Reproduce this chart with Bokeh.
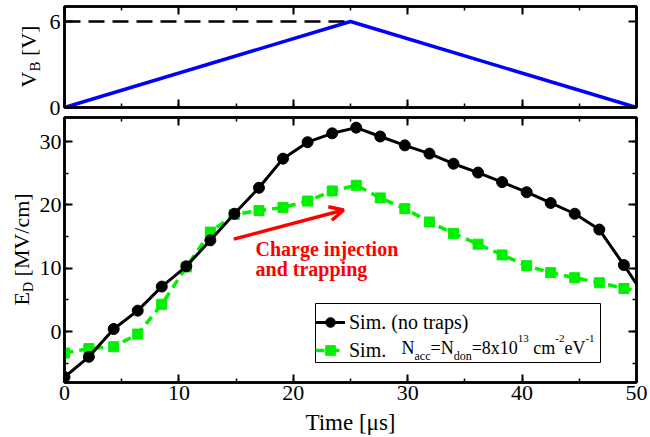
import math
from bokeh.plotting import figure
from bokeh.layouts import column, row
from bokeh.models import (Range1d, LinearAxis, FixedTicker, SingleIntervalTicker, Label,
                          Legend, LegendItem, Arrow, OpenHead, CustomJSTickFormatter,
                          BoxAnnotation)
from bokeh.embed import file_html
from bokeh.resources import INLINE

# ---------------- data ----------------
time_us = [0.0, 2.13, 4.3, 6.4, 8.5, 10.65, 12.75, 14.85, 17.0, 19.1, 21.25, 23.4,
           25.5, 27.6, 29.75, 31.9, 34.0, 36.15, 38.25, 40.4, 42.5, 44.6, 46.75, 48.9]
ed_no_traps = [-7.2, -4.0, 0.4, 3.3, 7.1, 10.3, 14.4, 18.6, 22.7, 27.3, 29.9, 31.3,
               32.2, 30.8, 29.4, 28.1, 26.5, 25.1, 23.6, 22.0, 20.3, 18.6, 16.1, 10.5]
ed_traps = [-3.4, -2.7, -2.4, -0.4, 4.3, 10.2, 15.7, 18.5, 19.1, 19.6, 20.6, 22.2,
            23.1, 21.1, 19.4, 17.3, 15.5, 13.8, 12.1, 10.4, 9.3, 8.5, 7.7, 6.8]
end_time = [50.0]
end_no_traps = [7.5]
end_traps = [6.5]

vb_time = [0, 25, 50]
vb_volt = [0, 6, 0]
vmax_time = [0, 25]
vmax_volt = [6, 6]

x_title = "Time [μs]"

FONT = "Liberation Serif"
MID = 0.3375  # em distance from alphabetic baseline to em-box middle

# Times / Liberation Serif advance widths (em)
TW = {"N": .722, "a": .444, "c": .444, "d": .5, "o": .5, "n": .5, "=": .564, "8": .5,
      "x": .5, "1": .5, "0": .5, "3": .5, " ": .25, "m": .778, "-": .333, "2": .5,
      "e": .444, "V": .722, "E": .611, "D": .722, "[": .333, "]": .333, "M": .889,
      "/": .278, "B": .667}


def tw(s, size):
    return sum(TW.get(ch, .5) for ch in s) * size


def style_axis(ax, ticker, labels=True, size="22px", standoff=3):
    ax.ticker = ticker
    ax.axis_line_color = "black"
    ax.axis_line_width = 2.5
    ax.major_tick_in = 8
    ax.major_tick_out = 0
    ax.minor_tick_in = 4
    ax.minor_tick_out = 0
    ax.major_tick_line_width = 2
    ax.minor_tick_line_width = 1.5
    ax.major_tick_line_color = "black"
    ax.minor_tick_line_color = "black"
    ax.major_label_text_font = FONT
    ax.major_label_text_color = "black"
    if labels:
        ax.major_label_text_font_size = size
        ax.major_label_standoff = standoff
    else:
        ax.formatter = CustomJSTickFormatter(code="return ''")
        ax.major_label_text_font_size = "0px"
        ax.major_label_standoff = 0


def xticker():
    return SingleIntervalTicker(interval=10, num_minor_ticks=2)


def base_fig(w, h, yr, left, top, bottom):
    p = figure(width=w, height=h, x_range=Range1d(0, 50), y_range=yr,
               output_backend="svg", toolbar_location=None,
               min_border_left=left, min_border_right=14,
               min_border_top=top, min_border_bottom=bottom)
    p.xgrid.grid_line_color = None
    p.ygrid.grid_line_color = None
    p.outline_line_color = "black"
    p.outline_line_width = 2.5
    p.background_fill_color = "white"
    p.border_fill_color = "white"
    return p


def label_fig(w, h, top, bottom, page_top):
    # frame aligned with the neighbour plot's frame; y data == page pixel row
    f = figure(width=w, height=h, x_range=Range1d(0, w),
               y_range=Range1d(page_top + h - bottom, page_top + top),
               output_backend="svg", toolbar_location=None,
               x_axis_location=None, y_axis_location=None,
               min_border_left=0, min_border_right=0, min_border_top=top,
               min_border_bottom=bottom)
    f.outline_line_color = None
    f.background_fill_color = "white"
    f.border_fill_color = "white"
    f.xgrid.visible = False
    f.ygrid.visible = False
    return f


def rot_label(f, tokens, x_base, y_start):
    # tokens: text, font size, baseline shift (px, + = right), gap before; text runs upward
    y = y_start
    for text, size, shift, gap in tokens:
        y -= gap
        w = tw(text, size)
        f.add_layout(Label(x=x_base + shift - MID * size, y=y - w / 2, text=text,
                           angle=math.pi / 2, text_font=FONT, text_font_size=f"{size}px",
                           text_align="center", text_baseline="middle", text_color="black"))
        y -= w


H1, H2 = 116, 321
T1, B1 = 6, 9
T2, B2 = 1, 55
LW1, LW2 = 42, 36

# ---------------- top panel ----------------
L1 = label_fig(LW1, H1, T1, B1, 0)
rot_label(L1, [("V", 22, 0, 0), ("B", 15, 5, 0), ("[V]", 22, 0, 5.5)], 35, 87)

p1 = base_fig(650 - LW1, H1, Range1d(0, 7.05), left=64 - LW1, top=T1, bottom=B1)
style_axis(p1.xaxis[0], xticker(), labels=False)
style_axis(p1.yaxis[0], FixedTicker(ticks=[0, 6], minor_ticks=[]), labels=True, standoff=4)
ax_r1 = LinearAxis()
style_axis(ax_r1, FixedTicker(ticks=[0, 6], minor_ticks=[]), labels=False)
p1.add_layout(ax_r1, "right")
ax_t1 = LinearAxis()
style_axis(ax_t1, xticker(), labels=False)
p1.add_layout(ax_t1, "above")

p1.line(vmax_time, vmax_volt, line_color="black", line_width=2.5, line_dash="16 8")
p1.line(vb_time, vb_volt, line_color="#0000ff", line_width=3.5)

# ---------------- bottom panel ----------------
L2 = label_fig(LW2, H2, T2, B2, H1)
rot_label(L2, [("E", 22, 0, 0), ("D", 14, 4.5, 0), ("[MV/cm]", 22, 0, 5.5)], 28.5, 305)

p2 = base_fig(650 - LW2, H2, Range1d(-8.05, 33.8), left=64 - LW2, top=T2, bottom=B2)
style_axis(p2.xaxis[0], xticker(), labels=True, standoff=3)
p2.xaxis[0].axis_label = x_title
p2.xaxis[0].axis_label_text_font = FONT
p2.xaxis[0].axis_label_text_font_size = "23px"
p2.xaxis[0].axis_label_text_font_style = "normal"
p2.xaxis[0].axis_label_text_color = "black"
p2.xaxis[0].axis_label_standoff = 7
style_axis(p2.yaxis[0], SingleIntervalTicker(interval=10, num_minor_ticks=2), labels=True, standoff=3)
ax_r2 = LinearAxis()
style_axis(ax_r2, SingleIntervalTicker(interval=10, num_minor_ticks=2), labels=False)
p2.add_layout(ax_r2, "right")
ax_t2 = LinearAxis()
style_axis(ax_t2, xticker(), labels=False)
p2.add_layout(ax_t2, "above")

green = "#00f000"
g_line = p2.line(time_us + end_time, ed_traps + end_traps, line_color=green,
                 line_width=3.5, line_dash="9 6")
g_sc = p2.scatter(time_us, ed_traps, marker="square", size=10, fill_color=green,
                  line_color=green)
b_line = p2.line(time_us + end_time, ed_no_traps + end_no_traps, line_color="black",
                 line_width=3)
b_sc = p2.scatter(time_us, ed_no_traps, marker="circle", size=11, fill_color="black",
                  line_color="black")

p2.add_layout(Arrow(x_start=14.8, y_start=14.6, x_end=24.4, y_end=19.2,
                    line_color="red", line_width=3.5,
                    end=OpenHead(size=14, line_color="red", line_width=3.5)))
for txt, yy in [("Charge injection", 13.07), ("and trapping", 9.9)]:
    p2.add_layout(Label(x=16.7, y=yy, text=txt, text_font=FONT, text_font_size="20px",
                        text_font_style="bold", text_color="red", text_align="left",
                        text_baseline="middle"))

# legend frame (white box with black border), legend itself transparent on top
LEG_L, LEG_B, LEG_W, LEG_H = 251, 20, 285, 59
p2.add_layout(BoxAnnotation(left=LEG_L, right=LEG_L + LEG_W, bottom=LEG_B, top=LEG_B + LEG_H,
                            left_units="screen", right_units="screen",
                            bottom_units="screen", top_units="screen",
                            fill_color="white", fill_alpha=1.0, line_color="black",
                            line_width=1, line_alpha=1.0, level="annotation"))

legend = Legend(items=[LegendItem(label="Sim. (no traps)", renderers=[b_line, b_sc]),
                       LegendItem(label="Sim.", renderers=[g_line, g_sc])],
                location=(LEG_L, LEG_B), margin=0, padding=4, spacing=4,
                glyph_width=30, glyph_height=24, label_height=24, label_width=243,
                label_standoff=4, label_text_font=FONT, label_text_font_size="20px",
                label_text_color="black", border_line_color=None,
                background_fill_alpha=0.0)
p2.add_layout(legend)

# math part of the second legend label
row2_mid = 35
x = 337
for text, size, kind, gap in [("N", 18, "m", 0), ("acc", 12, "sub", 0), ("=N", 18, "m", 0),
                              ("don", 12, "sub", 0), ("=8x10", 18, "m", 0),
                              ("13", 11, "sup", 0), ("cm", 18, "m", 4.5),
                              ("-2", 11, "sup", 0), ("eV", 18, "m", 0), ("-1", 11, "sup", 0)]:
    x += gap
    main_base = row2_mid - MID * 18
    if kind == "m":
        yb = main_base
    elif kind == "sub":
        yb = main_base - 6
    else:
        yb = main_base + 11
    p2.add_layout(Label(x=x, y=yb + MID * size, x_units="screen", y_units="screen", text=text,
                        text_font=FONT, text_font_size=f"{size}px", text_align="left",
                        text_baseline="middle", text_color="black", level="overlay"))
    x += tw(text, size)

layout = column(row(L1, p1, spacing=0), row(L2, p2, spacing=0), spacing=0)
open("out.html", "w").write(file_html(layout, INLINE))
